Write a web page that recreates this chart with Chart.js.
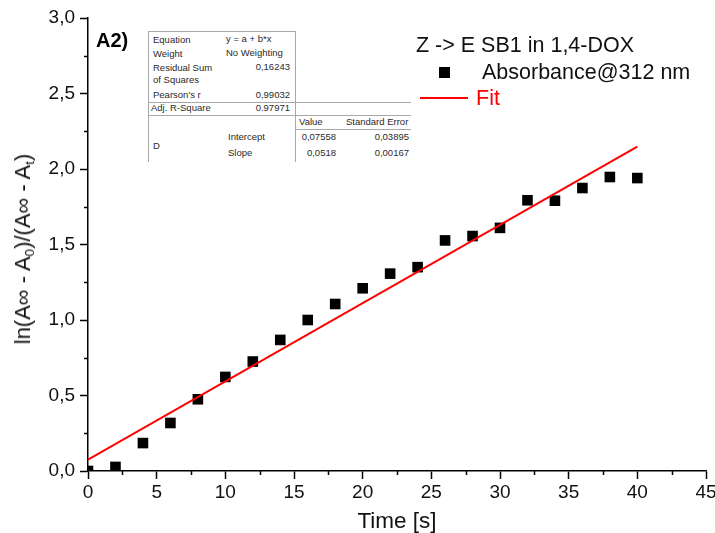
<!DOCTYPE html>
<html>
<head>
<meta charset="utf-8">
<script src="https://cdn.jsdelivr.net/npm/chart.js@4"></script>
<style>
  body { margin: 0; background: #fff; }
  #wrap { position: relative; width: 715px; height: 533px; font-family: "Liberation Sans", Arial, sans-serif; }
  #plot { position: absolute; left: 0; top: 0; }
  .ytitle {
    position: absolute; left: 23px; top: 249px; white-space: nowrap;
    font-size: 22px; color: #111;
    transform: translate(-50%, -50%) rotate(-90deg);
  }
  .ytitle sub { font-size: 0.62em; vertical-align: -0.3em; line-height: 0; }
  .panel { position: absolute; left: 96px; top: 29px; font-size: 20px; font-weight: bold; color: #000; }
  .lg { position: absolute; font-size: 21.5px; color: #111; white-space: nowrap; line-height: 24px; }
  .lg-mark { position: absolute; left: 439px; top: 67px; width: 11px; height: 11px; background: #000; }
  .lg-line { position: absolute; left: 420px; top: 97px; width: 48px; height: 2px; background: #f00; }
  #stats { position: absolute; left: 0; top: 0; }
  .tb { position: absolute; left: 148px; top: 31px; width: 264px; height: 131px; background: #fff; }
  .t { position: absolute; font-size: 9.5px; line-height: 12px; color: #2a2a2a; white-space: nowrap; }
  .r { text-align: right; }
  .hl { position: absolute; height: 1px; background: #a8a8a8; }
  .vl { position: absolute; width: 1px; background: #a8a8a8; }
</style>
</head>
<body>
<div id="wrap">
  <canvas id="plot" width="715" height="533"></canvas>
  <div class="ytitle">ln(A∞ - A<sub>0</sub>)/(A∞ - A<sub>t</sub>)</div>
  <div class="panel">A2)</div>

  <div class="tb"></div>
  <div id="stats"></div>

  <div class="lg" style="left:416px; top:33px;">Z -&gt; E SB1 in 1,4-DOX</div>
  <div class="lg-mark"></div>
  <div class="lg" style="left:482px; top:60px;">Absorbance@312 nm</div>
  <div class="lg-line"></div>
  <div class="lg" style="left:476px; top:86px; color:#f00;">Fit</div>
</div>

<script>
// measured points: time in s, ln((A∞ - A0)/(A∞ - At))
const times = [0, 2, 4, 6, 8, 10, 12, 14, 16, 18, 20, 22, 24, 26, 28, 30, 32, 34, 36, 38, 40];
const lnRatio = [0.0, 0.027, 0.185, 0.318, 0.475, 0.623, 0.725, 0.868, 1.0, 1.106, 1.21,
                 1.307, 1.35, 1.527, 1.556, 1.61, 1.793, 1.79, 1.874, 1.947, 1.94];

// linear fit y = a + b*x
const fitIntercept = 0.07558;
const fitSlope = 0.0518;
const fitRange = [0, 40];

const xTickMax = 45;
const yTickMax = 3;

// fit report rows: [text, left or right edge, centre y, align]
const statCells = [
  ["Equation", 153, 40, "l"], ["y = a + b*x", 226, 39, "l"],
  ["Weight", 153, 54, "l"], ["No Weighting", 226, 53, "l"],
  ["Residual Sum", 153, 68, "l"], ["of Squares", 153, 80, "l"], ["0,16243", 290, 67, "r"],
  ["Pearson's r", 153, 95, "l"], ["0,99032", 290, 95, "r"],
  ["Adj. R-Square", 151, 108, "l"], ["0.97971", 290, 108, "r"],
  ["Value", 299, 122, "l"], ["Standard Error", 346, 122, "l"],
  ["Intercept", 228, 137, "l"], ["0,07558", 336, 137, "r"], ["0,03895", 409, 137, "r"],
  ["D", 153, 146, "l"],
  ["Slope", 228, 153, "l"], ["0,0518", 336, 153, "r"], ["0,00167", 409, 153, "r"]
];

const stats = document.getElementById('stats');
statCells.forEach(([txt, xp, cy, al]) => {
  const d = document.createElement('div');
  d.className = 't';
  d.textContent = txt;
  d.style.top = (cy - 6) + 'px';
  if (al === 'r') {
    d.classList.add('r');
    d.style.left = (xp - 80) + 'px';
    d.style.width = '80px';
  } else {
    d.style.left = xp + 'px';
  }
  stats.appendChild(d);
});

// table rules
[[148, 31, 147], [148, 102, 263], [148, 115, 263], [295, 129, 116]].forEach(([l, t, w]) => {
  const d = document.createElement('div');
  d.className = 'hl';
  Object.assign(d.style, { left: l + 'px', top: t + 'px', width: w + 'px' });
  stats.appendChild(d);
});
[[148, 31, 131], [295, 31, 131]].forEach(([l, t, h]) => {
  const d = document.createElement('div');
  d.className = 'vl';
  Object.assign(d.style, { left: l + 'px', top: t + 'px', height: h + 'px' });
  stats.appendChild(d);
});

const points = times.map((t, i) => ({ x: t, y: lnRatio[i] }));
const fitPoints = fitRange.map(t => ({ x: t, y: fitIntercept + fitSlope * t }));

// short minor ticks halfway between the labelled ones
const minorTicks = {
  id: 'minorTicks',
  afterDraw(chart) {
    const { ctx, scales: { x, y } } = chart;
    ctx.save();
    ctx.strokeStyle = '#000';
    ctx.lineWidth = 1.5;
    ctx.beginPath();
    for (let v = 2.5; v < xTickMax; v += 5) {
      const px = Math.round(x.getPixelForValue(v)) + 0.5;
      ctx.moveTo(px, x.top);
      ctx.lineTo(px, x.top + 4);
    }
    for (let v = 0.25; v < yTickMax; v += 0.5) {
      const py = Math.round(y.getPixelForValue(v)) + 0.5;
      ctx.moveTo(y.right, py);
      ctx.lineTo(y.right - 4, py);
    }
    ctx.stroke();
    ctx.restore();
  }
};

const tickFont = { family: '"Liberation Sans", Arial, sans-serif', size: 19 };

new Chart(document.getElementById('plot'), {
  type: 'scatter',
  data: {
    datasets: [
      {
        type: 'line',
        data: fitPoints,
        borderColor: '#ff0000',
        borderWidth: 2,
        pointRadius: 0,
        fill: false
      },
      {
        data: points,
        pointStyle: 'rect',
        pointRadius: 7.5,
        backgroundColor: '#000',
        borderColor: '#000',
        borderWidth: 0
      }
    ]
  },
  options: {
    responsive: false,
    animation: false,
    layout: { padding: { left: 0, top: 18, right: 9, bottom: 0 } },
    plugins: { legend: { display: false }, tooltip: { enabled: false } },
    scales: {
      x: {
        type: 'linear',
        min: 0,
        max: xTickMax,
        border: { display: true, color: '#000', width: 1.5 },
        grid: { drawOnChartArea: false, drawTicks: true, tickLength: 8, tickColor: '#000', tickWidth: 1.5 },
        ticks: { stepSize: 5, color: '#111', font: tickFont, padding: 2, maxRotation: 0 },
        title: {
          display: true,
          text: 'Time [s]',
          color: '#111',
          font: { family: '"Liberation Sans", Arial, sans-serif', size: 22.5, lineHeight: 1 },
          padding: { top: 0, bottom: 0 }
        },
        afterFit: s => { s.height = 62; s.paddingLeft = 0; s.paddingRight = 0; }
      },
      y: {
        type: 'linear',
        min: 0,
        max: yTickMax,
        border: { display: true, color: '#000', width: 1.5 },
        grid: { drawOnChartArea: false, drawTicks: true, tickLength: 8, tickColor: '#000', tickWidth: 1.5 },
        ticks: {
          stepSize: 0.5,
          color: '#111',
          font: tickFont,
          padding: 5,
          callback: v => v.toFixed(1).replace('.', ',')
        },
        afterFit: s => { s.width = 88; s.paddingTop = 0; s.paddingBottom = 0; }
      }
    }
  },
  plugins: [minorTicks]
});
</script>
</body>
</html>
